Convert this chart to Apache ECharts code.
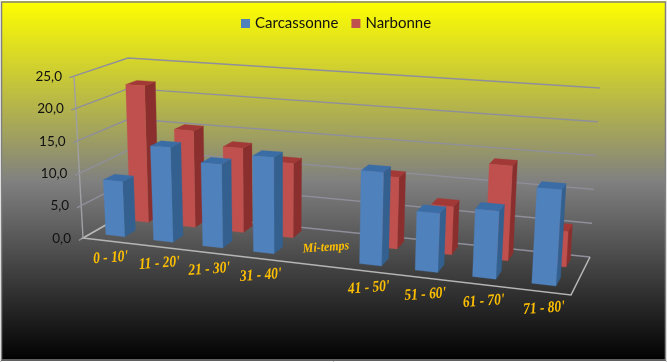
<!DOCTYPE html>
<html><head><meta charset="utf-8">
<style>html,body{margin:0;padding:0;background:#fff}#c{width:667px;height:362px}</style>
<script src="https://cdn.jsdelivr.net/npm/echarts@6/dist/echarts.min.js"></script>
</head><body><div id="c"></div>
<script>
const categories = ["0 - 10'","11 - 20'","21 - 30'","31 - 40'","Mi-temps","41 - 50'","51 - 60'","61 - 70'","71 - 80'"];
const carcassonne = [8.5,14.4,12.5,14.2,null,13.4,8.3,9.4,13.1];
const narbonne = [21.8,15.2,13.1,11.4,null,10.7,7.1,13.8,5.1];
const yTicks = [0,5,10,15,20,25];
const yTickLabels = ["0,0","5,0","10,0","15,0","20,0","25,0"];
const seriesNames = ["Carcassonne","Narbonne"];

// Perspective frame of the 3D box (screen corners): floor and ceiling
const FRAME = {
  f0:[83,238], r0:[571,295], b0:[132,210], q0:[590,257],
  f1:[74,76],  r1:[583,107], b1:[128,58],  q1:[600,88]
};
const WX=0.87, WY=1.07;
const foreshorten=(t,w)=>w*t/(1+(w-1)*t);
function project(X,Y,Z){
  const u=foreshorten(X,WX), v=foreshorten(Y,WY), F=FRAME, out=[];
  for(let k=0;k<2;k++){
    const lo=(1-v)*((1-u)*F.f0[k]+u*F.r0[k])+v*((1-u)*F.b0[k]+u*F.q0[k]);
    const hi=(1-v)*((1-u)*F.f1[k]+u*F.r1[k])+v*((1-u)*F.b1[k]+u*F.q1[k]);
    out.push(lo+(hi-lo)*Z);
  }
  return out;
}
const BAR_RATIO=0.4, BAR_DEPTH=0.22;
function barRender(rowY,cols){
  return function(params,api){
    const i=api.value(0), val=api.value(1);
    const W=api.getWidth(), H=api.getHeight();
    const p=api.coord([i,val]), base=api.coord([i,0]);
    const band=api.size([1,0])[0];
    const x0=(p[0]-band*BAR_RATIO/2)/W, x1=(p[0]+band*BAR_RATIO/2)/W;
    const z=(base[1]-p[1])/H;
    const y0=rowY, y1=rowY+BAR_DEPTH;
    const poly=(pts,fill)=>({type:'polygon',shape:{points:pts},style:{fill:fill,stroke:fill,lineWidth:0.3}});
    return {type:'group',children:[
      poly([project(x1,y0,0),project(x1,y1,0),project(x1,y1,z),project(x1,y0,z)],cols[1]),
      poly([project(x0,y0,z),project(x1,y0,z),project(x1,y1,z),project(x0,y1,z)],cols[2]),
      poly([project(x0,y0,0),project(x1,y0,0),project(x1,y0,z),project(x0,y0,z)],cols[0])
    ]};
  };
}
function frameRender(params,api){
  const v=api.value(1), H=api.getHeight();
  const z=(api.coord([0,0])[1]-api.coord([0,v])[1])/H;
  const grid={stroke:'#8f8f9c',lineWidth:1.4};
  const a=project(0,0,z), t=project(0,-0.08,z);
  const kids=[{type:'polyline',shape:{points:[t,project(0,1,z),project(1,1,z)]},style:Object.assign({fill:null},grid)}];
  kids.push({type:'text',x:a[0]-12,y:a[1]+0.5,style:{text:yTickLabels[params.dataIndex],fill:'#111',font:'13.5px Lato',align:'right',verticalAlign:'middle'}});
  if(v===0){
    const s={stroke:'#b5b5b5',lineWidth:1.6,fill:null};
    kids.push({type:'polyline',shape:{points:[project(0,1,0),project(0,0,0),project(1,0,0),project(1,1,0)]},style:s});
    kids.push({type:'line',shape:{x1:a[0],y1:a[1],x2:project(0,0,1)[0],y2:project(0,0,1)[1]},style:{stroke:'#a0a0a4',lineWidth:1.4}});
  }
  return {type:'group',children:kids};
}
function catRender(params,api){
  const i=api.value(0), W=api.getWidth();
  const c=api.coord([i,0]);
  const pt=project(c[0]/W,0,0);
  const mid=categories[i]==='Mi-temps';
  return {type:'text',x:pt[0]+(mid?16:4),y:pt[1]+(mid?-17:17),rotation:0.07,scaleX:mid?0.92:0.84,
    style:{text:categories[i],fill:'#ffc000',font:(mid?'italic bold 13px':'italic bold 16px')+' "Liberation Serif"',align:'center',verticalAlign:'middle'}};
}
const pairs=a=>a.map((v,i)=>[i,v]).filter(d=>d[1]!==null);
const option={
  animation:false,
  backgroundColor:{type:'linear',x:0,y:0,x2:0,y2:1,colorStops:[{offset:0,color:'#ffff00'},{offset:0.5,color:'#808080'},{offset:1,color:'#000000'}]},
  grid:{left:0,right:0,top:0,bottom:0},
  xAxis:{type:'category',data:categories,show:false},
  yAxis:{type:'value',min:0,max:25,interval:5,show:false},
  legend:{data:seriesNames.map(n=>({name:n,icon:'rect'})),left:236,top:11,itemWidth:9,itemHeight:9,itemGap:13,
    textStyle:{fontFamily:'Lato',fontSize:15,color:'#111'},selectedMode:false},
  graphic:[
    {type:'rect',silent:true,z:100,shape:{x:0.5,y:0.5,width:666,height:361},style:{fill:null,stroke:'#ffffff',lineWidth:1}},
    {type:'rect',silent:true,z:100,shape:{x:1.5,y:2,width:664,height:358},style:{fill:null,stroke:'#808080',lineWidth:1.5}}
  ],
  series:[
    {type:'custom',name:'frame',silent:true,z:1,data:yTicks.map((v,i)=>[0,v]),encode:{x:0,y:1},renderItem:frameRender,clip:false},
    {type:'custom',name:'cats',silent:true,z:1,data:categories.map((c,i)=>[i,0]),encode:{x:0,y:1},renderItem:catRender,clip:false},
    {type:'custom',name:seriesNames[1],silent:true,z:2,itemStyle:{color:'#c0504d'},data:pairs(narbonne),encode:{x:0,y:1},renderItem:barRender(0.67,['#c0504d','#8a2f2d','#a33937']),clip:false},
    {type:'custom',name:seriesNames[0],silent:true,z:3,itemStyle:{color:'#4f81bd'},data:pairs(carcassonne),encode:{x:0,y:1},renderItem:barRender(0.17,['#4f81bd','#33608f','#3a6ca6']),clip:false}
  ]
};
echarts.init(document.getElementById('c')).setOption(option);
</script></body></html>
